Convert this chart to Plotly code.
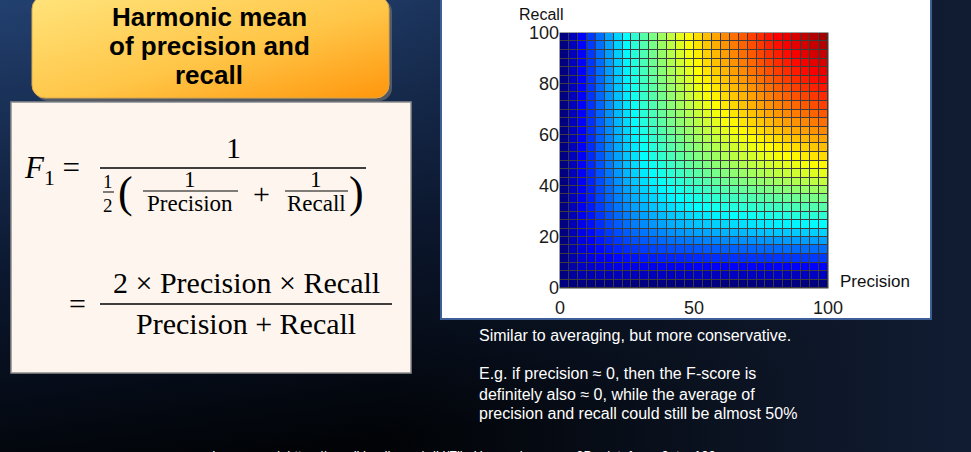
import base64
import plotly.graph_objects as go

# ---------------- data ----------------
# grid edges of the (Precision, Recall) mesh, 0..100 in 30 steps
precision_edges = [0, 3.33, 6.67, 10, 13.33, 16.67, 20, 23.33, 26.67, 30, 33.33, 36.67,
                   40, 43.33, 46.67, 50, 53.33, 56.67, 60, 63.33, 66.67, 70, 73.33, 76.67,
                   80, 83.33, 86.67, 90, 93.33, 96.67, 100]
recall_edges = [0, 3.33, 6.67, 10, 13.33, 16.67, 20, 23.33, 26.67, 30, 33.33, 36.67,
                40, 43.33, 46.67, 50, 53.33, 56.67, 60, 63.33, 66.67, 70, 73.33, 76.67,
                80, 83.33, 86.67, 90, 93.33, 96.67, 100]
x_ticks = [0, 50, 100]
y_ticks = [0, 20, 40, 60, 80, 100]

title_lines = ["Harmonic mean", "of precision and", "recall"]
note_lines = ["Similar to averaging, but more conservative.",
              "E.g. if precision \u2248 0, then the F-score is",
              "definitely also \u2248 0, while the average of",
              "precision and recall could still be almost 50%"]
source_text = "Image used: https://en.wikipedia.org/wiki/File:Harmonic_mean_3D_plot_from_0_to_100"


def f1(p, r):
    return 0.0 if p + r == 0 else 2 * p * r / (p + r)


# each mesh face is coloured by its lower-left vertex (faceted surface)
z = [[f1(precision_edges[i], recall_edges[j]) for i in range(len(precision_edges) - 1)]
     for j in range(len(recall_edges) - 1)]

W, H = 971, 452
jet = [[0.0, "rgb(0,0,128)"], [0.125, "rgb(0,0,255)"], [0.375, "rgb(0,255,255)"],
       [0.625, "rgb(255,255,0)"], [0.875, "rgb(255,0,0)"], [1.0, "rgb(128,0,0)"]]

fig = go.Figure()
fig.add_trace(go.Heatmap(x=precision_edges, y=recall_edges, z=z, colorscale=jet,
                         zmin=0, zmax=100, showscale=False, xgap=1, ygap=1,
                         hoverinfo="skip"))


def px(x):
    return x / W


def py(y):
    return 1 - y / H


# ---------------- background (slide) ----------------
svg = f'''<svg xmlns="http://www.w3.org/2000/svg" width="{W}" height="{H}" viewBox="0 0 {W} {H}" preserveAspectRatio="none">
<defs>
<linearGradient id="bg" x1="0" y1="0" x2="0.3" y2="1">
<stop offset="0" stop-color="#22406f"/><stop offset="0.55" stop-color="#0c1830"/><stop offset="1" stop-color="#010306"/>
</linearGradient>
<linearGradient id="bgr" x1="0" y1="0" x2="1" y2="0">
<stop offset="0.40" stop-color="#0f192c" stop-opacity="0"/><stop offset="0.9" stop-color="#0f192c" stop-opacity="1"/><stop offset="1" stop-color="#111c33" stop-opacity="1"/>
</linearGradient>
<linearGradient id="or" x1="0" y1="0" x2="1" y2="1">
<stop offset="0" stop-color="#ffe47c"/><stop offset="0.55" stop-color="#ffc648"/><stop offset="1" stop-color="#ff960c"/>
</linearGradient>
</defs>
<rect width="{W}" height="{H}" fill="url(#bg)"/>
<rect width="{W}" height="{H}" fill="url(#bgr)"/>
<rect x="35" y="-1" width="357" height="102" rx="13" fill="#6a6a6a" opacity="0.75"/>
<rect x="32" y="-4" width="357" height="102" rx="13" fill="url(#or)" stroke="#d9a850" stroke-width="1"/>
<rect x="11" y="102" width="400" height="271" fill="#fef6ee" stroke="#8c8c8c" stroke-width="1.5"/>
<rect x="441" y="-3" width="490" height="322" fill="#ffffff" stroke="#3d5e96" stroke-width="2"/>
<rect x="559.5" y="32.5" width="269" height="256" fill="#3c3c3c"/>
</svg>'''
src = "data:image/svg+xml;base64," + base64.b64encode(svg.encode()).decode()
fig.add_layout_image(dict(source=src, xref="paper", yref="paper", x=0, y=1, sizex=1, sizey=1,
                          xanchor="left", yanchor="top", sizing="stretch", layer="below"))

annotations = []
shapes = []


def ann(text, x, y, size, family="Liberation Sans, Arial", color="black",
        xanchor="center", yanchor="middle"):
    annotations.append(dict(text=text, x=px(x), y=py(y), xref="paper", yref="paper",
                            showarrow=False, xanchor=xanchor, yanchor=yanchor,
                            font=dict(size=size, family=family, color=color)))


def bar(x0, x1, y, w=1.4):
    shapes.append(dict(type="line", xref="paper", yref="paper", x0=px(x0), x1=px(x1),
                       y0=py(y), y1=py(y), line=dict(color="black", width=w)))


# title
for txt, yy in zip(title_lines, [17, 46, 75]):
    ann("<b>" + txt + "</b>", 209, yy, 26)

# formula
serif = "Liberation Serif, Times New Roman, serif"
ann("<i>F</i><sub>1</sub> =", 22, 170, 31, serif, xanchor="left")
ann("1", 233, 147, 30, serif)
bar(100, 366, 168)
ann("1", 108, 181, 19, serif)
bar(103, 114, 192, 1)
ann("2", 108, 205, 19, serif)
ann("(", 125, 192, 44, serif)
ann("1", 190, 180, 23, serif)
bar(143, 238, 191, 1.1)
ann("Precision", 190, 203, 23, serif)
ann("+", 261, 193, 30, serif)
ann("1", 316, 180, 23, serif)
bar(285, 348, 191, 1.1)
ann("Recall", 316, 203, 23, serif)
ann(")", 356, 192, 44, serif)

ann("=", 77, 303, 30, serif)
ann("2 \u00d7 Precision \u00d7 Recall", 246, 282, 30, serif)
bar(100, 392, 304)
ann("Precision + Recall", 246, 323, 30, serif)

# heatmap labels
ann("Recall", 541, 15, 16, color="#111")
ann("Precision", 838, 281, 17, color="#111", xanchor="left")

# notes
for txt, yy in zip(note_lines, [335, 373, 394, 413]):
    ann(txt, 477, yy, 16, color="white", xanchor="left")
ann(source_text, 210, 446, 13, color="white", xanchor="left", yanchor="top")

fig.update_layout(
    autosize=True, margin=dict(l=0, r=0, t=0, b=0, autoexpand=False),
    paper_bgcolor="#0f1a30", plot_bgcolor="#3c3c3c",
    annotations=annotations, shapes=shapes,
    xaxis=dict(domain=[px(560), px(828)], range=[0, 100], tickvals=x_ticks,
               showgrid=False, zeroline=False, ticks="outside", ticklen=3,
               tickcolor="rgba(0,0,0,0)", fixedrange=True, automargin=False,
               tickfont=dict(size=18, family="Liberation Sans, Arial", color="#1a1a1a")),
    yaxis=dict(domain=[py(288), py(33)], range=[0, 100], tickvals=y_ticks,
               showgrid=False, zeroline=False, ticks="", fixedrange=True, automargin=False,
               tickfont=dict(size=18, family="Liberation Sans, Arial", color="#1a1a1a")),
)

fig.write_html("out.html", config={"displayModeBar": False},
               default_width="971px",
               default_height="452px; position:fixed; top:0; left:0",
               post_script="document.body.style.margin='0';")
